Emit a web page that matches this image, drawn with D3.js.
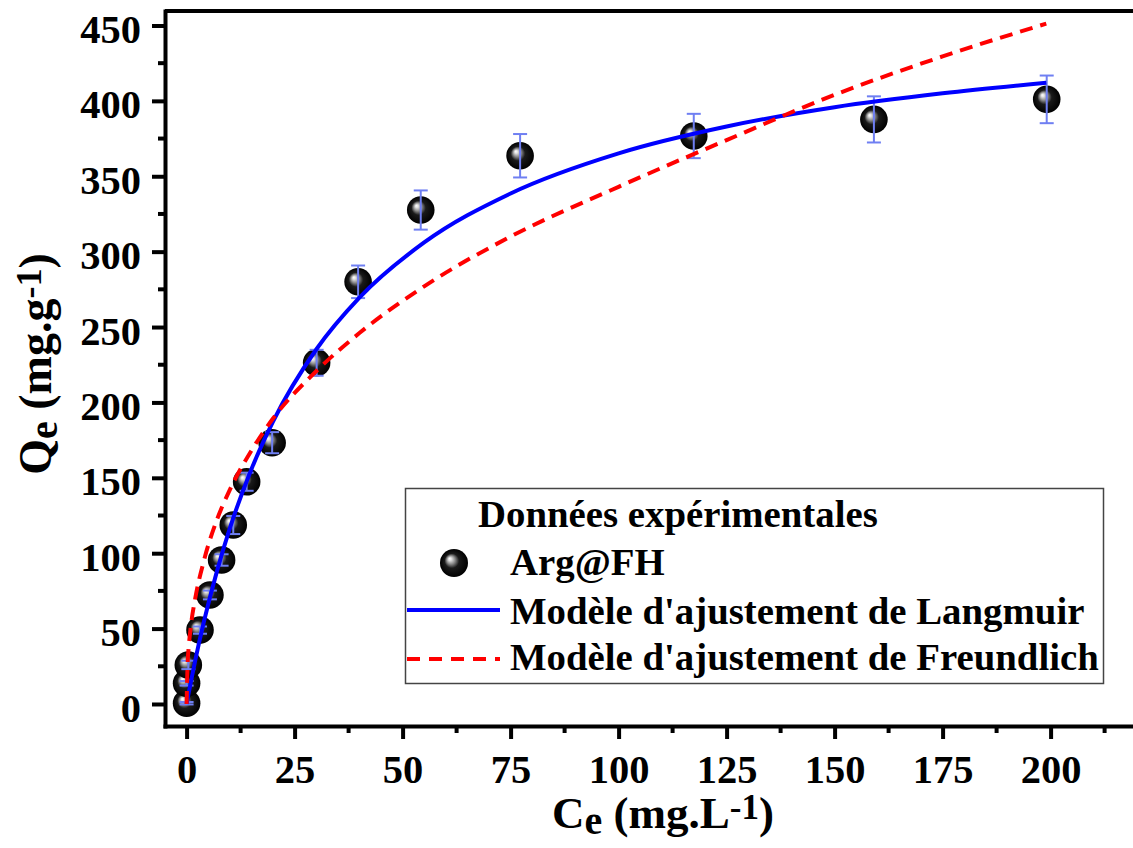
<!DOCTYPE html>
<html>
<head>
<meta charset="utf-8">
<script src="https://cdn.jsdelivr.net/npm/d3@7"></script>
<style>
  html, body { margin: 0; padding: 0; background: #fff; }
  svg { display: block; }
  text { font-family: "Liberation Serif", "Times New Roman", serif; font-weight: bold; fill: #000; }
</style>
</head>
<body>
<svg id="chart" width="1133" height="848"></svg>
<script>
// Experimental adsorption isotherm, Arg@FH
const ce = [0, 0, 0.4, 3.1, 5.4, 8.1, 10.8, 13.9, 19.8, 30.1, 39.7, 54.2, 77.2, 117.4, 159.1, 199.1];
const qe = [0.5, 13.7, 25.9, 49, 72.3, 95.5, 118.7, 147.4, 173.3, 226.3, 280, 327.6, 363.6, 376.7, 387.7, 401];
const qeErr = [0.8, 1.5, 2.8, 2.4, 2.9, 3.8, 6, 6, 7, 8.6, 10.8, 13, 14.4, 14.7, 15.3, 15.8];

// Fitted model curves (Langmuir, Freundlich)
const fitCe = [0, 0.25, 0.5, 1, 2, 4, 7, 10, 15, 20, 30, 40, 55, 75, 100, 125, 150, 175, 199];
const langmuirQe = [0, 3.8, 7.6, 14.9, 28.9, 54.5, 87.8, 116.4, 155.7, 187.3, 235.1, 269.5, 306.1, 338.6, 365.2, 383, 395.8, 405, 412];
const freundlichQe = [0, 28, 38, 52, 70, 95, 122, 142, 168, 189.3, 220.7, 246, 277, 310, 343, 374, 404, 429.5, 451.2];

// Axis ticks
const xMajor = [0, 25, 50, 75, 100, 125, 150, 175, 200];
const xMinor = [12.5, 37.5, 62.5, 87.5, 112.5, 137.5, 162.5, 187.5, 212.5];
const yMajor = [0, 50, 100, 150, 200, 250, 300, 350, 400, 450];
const yMinor = [25, 75, 125, 175, 225, 275, 325, 375, 425];

const legendTitle = "Données expérimentales";
const legendLabels = ["Arg@FH", "Modèle d'ajustement de Langmuir", "Modèle d'ajustement de Freundlich"];

const svg = d3.select("#chart");

const x = d3.scaleLinear().domain([-5, 225]).range([165, 165 + 230 * 4.32]);
const y = d3.scaleLinear().domain([-14.6, 459.6]).range([726, 11]);

// sphere marker gradient
const defs = svg.append("defs");
const grad = defs.append("radialGradient").attr("id", "sphere")
  .attr("cx", "50%").attr("cy", "50%").attr("r", "50%")
  .attr("fx", "34%").attr("fy", "34%");
[[0, "#ffffff"], [0.1, "#e6e6e6"], [0.3, "#8a8a8a"], [0.52, "#1a1a1a"], [1, "#000000"]]
  .forEach(([o, c]) => grad.append("stop").attr("offset", o).attr("stop-color", c));

// frame: top line
svg.append("line")
  .attr("x1", x(-5)).attr("x2", x(225)).attr("y1", y(459.6)).attr("y2", y(459.6))
  .attr("stroke", "#000").attr("stroke-width", 4);

// x axis
const gx = svg.append("g").attr("transform", `translate(0,${y(-14.6)})`)
  .call(d3.axisBottom(x).tickValues(xMajor).tickSize(13).tickSizeOuter(0).tickFormat(d3.format("d")));
gx.select(".domain").attr("stroke-width", 4);
gx.selectAll(".tick line").attr("stroke-width", 4);
gx.selectAll(".tick text").attr("y", 28).attr("dy", "0.71em").attr("font-size", 40.5)
  .attr("font-family", null);
gx.selectAll(".minor").data(xMinor).enter().append("line").attr("class", "minor")
  .attr("x1", d => x(d)).attr("x2", d => x(d)).attr("y1", 0).attr("y2", 7)
  .attr("stroke", "#000").attr("stroke-width", 4);

// y axis
const gy = svg.append("g").attr("transform", `translate(${x(-5)},0)`)
  .call(d3.axisLeft(y).tickValues(yMajor).tickSize(13).tickSizeOuter(0).tickFormat(d3.format("d")));
gy.select(".domain").attr("stroke-width", 4);
gy.selectAll(".tick line").attr("stroke-width", 4);
gy.selectAll(".tick text").attr("x", -24).attr("dy", "0.42em").attr("font-size", 40.5)
  .attr("font-family", null);
gy.selectAll(".minor").data(yMinor).enter().append("line").attr("class", "minor")
  .attr("x1", 0).attr("x2", -7).attr("y1", d => y(d)).attr("y2", d => y(d))
  .attr("stroke", "#000").attr("stroke-width", 4);
svg.selectAll(".domain").attr("stroke-linecap", "square");

// points
const pts = ce.map((c, i) => ({ c, q: qe[i], e: qeErr[i] }));
svg.append("g").selectAll("circle").data(pts).enter().append("circle")
  .attr("cx", d => x(d.c)).attr("cy", d => y(d.q)).attr("r", 13.8)
  .attr("fill", "url(#sphere)");

// error bars
const eb = svg.append("g").attr("stroke", "#6f7ff2").attr("stroke-width", 2).attr("fill", "none");
pts.forEach(d => {
  const px = x(d.c), top = y(d.q + d.e), bot = y(d.q - d.e);
  eb.append("line").attr("x1", px).attr("x2", px).attr("y1", top).attr("y2", bot);
  eb.append("line").attr("x1", px - 7).attr("x2", px + 7).attr("y1", top).attr("y2", top);
  eb.append("line").attr("x1", px - 7).attr("x2", px + 7).attr("y1", bot).attr("y2", bot);
});

// fitted curves
const line = d3.line().x(d => x(d[0])).y(d => y(d[1])).curve(d3.curveMonotoneX);
svg.append("path").datum(fitCe.map((c, i) => [c, langmuirQe[i]]))
  .attr("d", line).attr("fill", "none").attr("stroke", "#0000ff").attr("stroke-width", 4);
svg.append("path").datum(fitCe.map((c, i) => [c, freundlichQe[i]]))
  .attr("d", line).attr("fill", "none").attr("stroke", "#ff0000").attr("stroke-width", 4)
  .attr("stroke-dasharray", "13,8");

// axis titles
const xt = svg.append("text").attr("x", 663).attr("y", 828).attr("text-anchor", "middle").attr("font-size", 45);
xt.append("tspan").text("C");
xt.append("tspan").attr("font-size", 40).attr("dy", 6).text("e");
xt.append("tspan").attr("dy", -6).text(" (mg.L");
xt.append("tspan").attr("font-size", 35).attr("dy", -9).text("-1");
xt.append("tspan").attr("dy", 9).text(")");

const yt = svg.append("text").attr("transform", "translate(51,364) rotate(-90)")
  .attr("text-anchor", "middle").attr("font-size", 46);
yt.append("tspan").text("Q");
yt.append("tspan").attr("font-size", 40).attr("dy", 6).text("e");
yt.append("tspan").attr("dy", -6).text(" (mg.g");
yt.append("tspan").attr("font-size", 36).attr("dy", -10).text("-1");
yt.append("tspan").attr("dy", 10).text(")");

// legend
const lg = svg.append("g");
lg.append("rect").attr("x", 405.5).attr("y", 488.5).attr("width", 698).attr("height", 195)
  .attr("fill", "#fff").attr("stroke", "#444").attr("stroke-width", 1.5);
lg.append("text").attr("x", 478).attr("y", 527).attr("font-size", 38.8).text(legendTitle);
lg.append("circle").attr("cx", 454).attr("cy", 563).attr("r", 14).attr("fill", "url(#sphere)");
lg.append("line").attr("x1", 407).attr("x2", 500).attr("y1", 610).attr("y2", 610)
  .attr("stroke", "#0000ff").attr("stroke-width", 4);
lg.append("line").attr("x1", 407).attr("x2", 500).attr("y1", 659).attr("y2", 659)
  .attr("stroke", "#ff0000").attr("stroke-width", 4).attr("stroke-dasharray", "13,9");
const rows = [575, 624, 670];
legendLabels.forEach((t, i) => {
  lg.append("text").attr("x", 510).attr("y", rows[i]).attr("font-size", 38.8).text(t);
});
</script>
</body>
</html>
